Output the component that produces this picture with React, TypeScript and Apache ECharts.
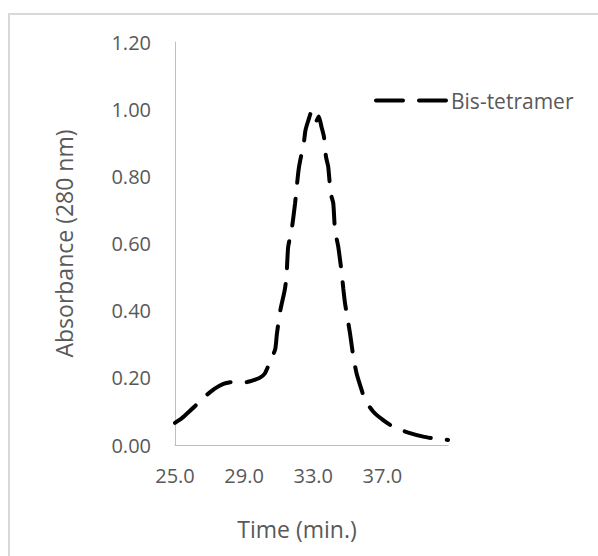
import React, { useEffect, useRef } from "react";
import * as echarts from "echarts";

const seriesName = "Bis-tetramer";
const xAxisTitle = "Time (min.)";
const yAxisTitle = "Absorbance (280 nm)";

const timeValues = [
  25.0, 25.4, 25.7, 26.2, 26.6, 27.0, 27.3, 27.8, 28.2, 28.6, 29.0, 29.3, 29.6,
  29.9, 30.2, 30.5, 30.8, 30.9, 31.1, 31.35, 31.45, 31.55, 31.75, 31.95, 32.05,
  32.15, 32.25, 32.45, 32.55, 32.72, 32.9, 33.02, 33.15, 33.32, 33.48, 33.62,
  33.74, 33.87, 34.01, 34.16, 34.26, 34.45, 34.65, 34.74, 34.84, 34.97, 35.13,
  35.32, 35.51, 35.8, 36.0, 36.48, 37.05, 37.63, 38.5, 39.37, 39.95, 40.8,
];

const absorbanceValues = [
  0.066, 0.08, 0.094, 0.118, 0.139, 0.156, 0.168, 0.182, 0.187, 0.188, 0.186,
  0.189, 0.194, 0.2, 0.213, 0.248, 0.285, 0.332, 0.402, 0.461, 0.5, 0.59, 0.64,
  0.72, 0.77, 0.818, 0.848, 0.898, 0.937, 0.967, 0.992, 0.988, 0.962, 0.978,
  0.947, 0.918, 0.858, 0.828, 0.749, 0.72, 0.64, 0.59, 0.511, 0.466, 0.422,
  0.382, 0.332, 0.263, 0.213, 0.164, 0.134, 0.099, 0.074, 0.054, 0.037, 0.025,
  0.02, 0.015,
];

const xMin = 25;
const xMax = 40.8;
const xInterval = 4;
const yMin = 0;
const yMax = 1.2;
const yInterval = 0.2;

const FONT = "'Open Sans', 'Noto Sans', sans-serif";
const GREY = "#595959";
const DASH = [27, 16];

export default function App() {
  const ref = useRef<HTMLDivElement>(null);

  useEffect(() => {
    if (!ref.current) return;
    const chart = echarts.init(ref.current, undefined, { renderer: "svg" });
    const data = timeValues.map((t, i) => [t, absorbanceValues[i]]);
    chart.setOption({
      animation: false,
      backgroundColor: "#ffffff",
      textStyle: { fontFamily: FONT },
      graphic: [
        {
          type: "rect",
          shape: { x: 9, y: 14, width: 800, height: 800 },
          style: { fill: "none", stroke: "#d9d9d9", lineWidth: 2 },
          silent: true,
        },
      ],
      grid: { left: 175, right: 150, top: 42, bottom: 111, containLabel: false },
      legend: {
        show: true,
        left: 369,
        top: 85,
        itemWidth: 70,
        itemHeight: 14,
        data: [seriesName],
        textStyle: { fontFamily: FONT, fontSize: 21, color: GREY },
        itemStyle: { color: "transparent", borderWidth: 0, opacity: 0 },
        lineStyle: { type: DASH, width: 4, cap: "round", color: "#000" },
      },
      xAxis: {
        type: "value",
        min: xMin,
        max: xMax,
        interval: xInterval,
        name: xAxisTitle,
        nameLocation: "middle",
        nameGap: 72,
        nameTextStyle: {
          fontFamily: FONT,
          fontSize: 23,
          color: GREY,
          padding: [0, 29, 0, 0],
        },
        axisLine: { show: true, lineStyle: { color: "#bfbfbf", width: 1 } },
        axisTick: { show: false },
        splitLine: { show: false },
        axisLabel: {
          showMaxLabel: false,
          margin: 20,
          fontFamily: FONT,
          fontSize: 20,
          color: GREY,
          formatter: (v: number) => {
            const k = (v - xMin) / xInterval;
            return Math.abs(k - Math.round(k)) < 1e-6 ? v.toFixed(1) : "";
          },
        },
      },
      yAxis: {
        type: "value",
        min: yMin,
        max: yMax,
        interval: yInterval,
        name: yAxisTitle,
        nameLocation: "middle",
        nameGap: 100,
        nameTextStyle: { fontFamily: FONT, fontSize: 23, color: GREY },
        axisLine: { show: true, lineStyle: { color: "#bfbfbf", width: 1 } },
        axisTick: { show: false },
        splitLine: { show: false },
        axisLabel: {
          margin: 24,
          fontFamily: FONT,
          fontSize: 20,
          color: GREY,
          formatter: (v: number) => v.toFixed(2),
        },
      },
      series: [
        {
          name: seriesName,
          type: "line",
          data,
          symbol: "none",
          smooth: 0.2,
          lineStyle: { color: "#000000", width: 4, type: DASH, cap: "round" },
          itemStyle: { color: "#000000" },
        },
      ],
    });
    return () => chart.dispose();
  }, []);

  return (
    <div
      ref={ref}
      style={{
        position: "absolute",
        left: 0,
        top: 0,
        width: 598,
        height: 556,
        background: "#ffffff",
      }}
    />
  );
}
